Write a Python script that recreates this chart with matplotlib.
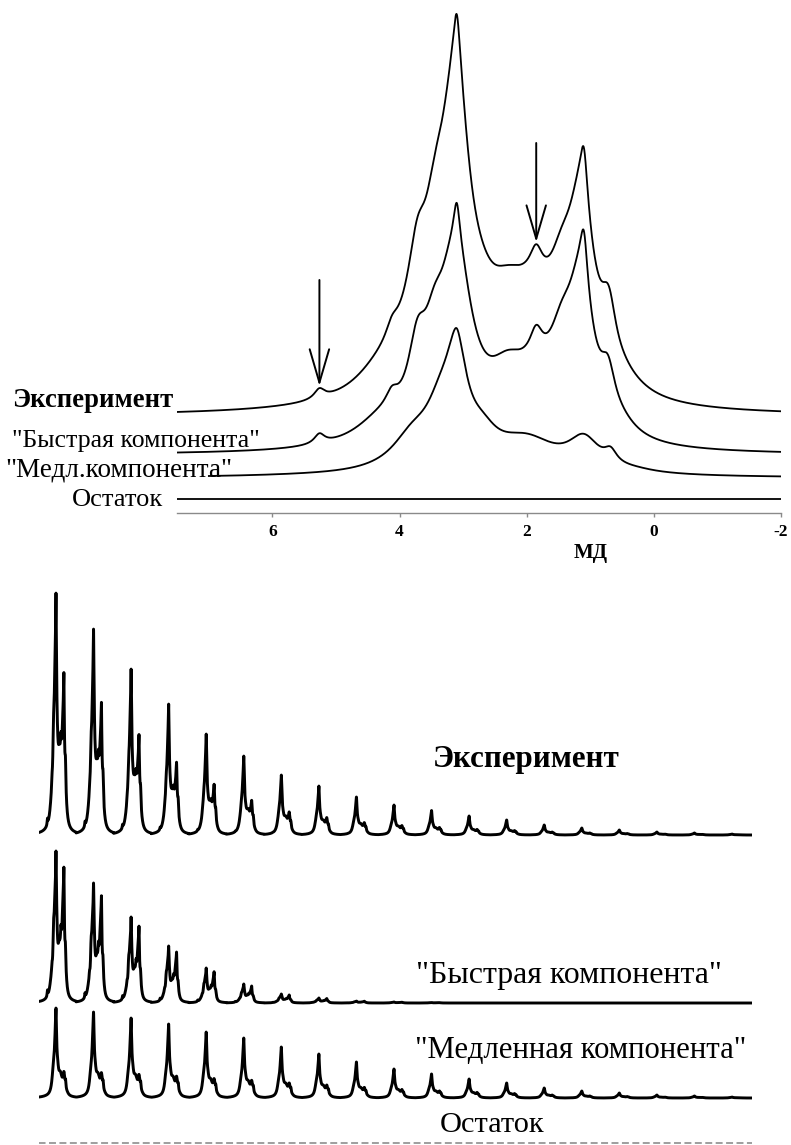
import numpy as np
import matplotlib
matplotlib.use('Agg')
import matplotlib.pyplot as plt

# ---------------- data ----------------
# chemical-shift axis (ppm)
ppm_left, ppm_right = 7.5, -2.0
ppm_ticks = [6, 4, 2, 0, -2]
ppm_tick_labels = ['6', '4', '2', '0', '-2']
x_label = 'МД'

# "fast" component: Lorentzian lines (position ppm, half-width ppm, height)
fast_pos = [5.26, 4.30, 4.12, 3.72, 3.45, 3.25, 3.10, 3.10, 2.30, 1.85, 1.85, 1.45, 1.10, 1.15, 0.72, 0.50]
fast_hw  = [0.10, 0.50, 0.12, 0.18, 0.20, 0.15, 0.06, 0.30, 0.40, 0.12, 0.40, 0.25, 0.07, 0.25, 0.14, 0.30]
fast_amp = [9.8, 22.0, 15.0, 65.0, 58.0, 9.1, 38.6, 168.6, 50.4, 26.6, 36.4, 59.1, 50.7, 132.9, 42.0, 8.5]

# "slow" component
slow_pos = [3.10, 3.10, 3.35, 3.80, 2.70, 2.00, 1.10, 0.68, 0.30, 5.50]
slow_hw  = [0.06, 0.20, 0.30, 0.40, 0.30, 0.60, 0.30, 0.12, 0.40, 1.50]
slow_amp = [4.8, 94.1, 46.7, 29.2, 22.1, 31.2, 30.0, 12.5, 2.3, 0.7]

slow_start_ppm = 7.0

# pseudo-2D series: peak height of each spectrum (19 spectra)
fast_series = [152, 120, 86, 57, 35, 19, 9, 5, 2, 1, 0.5, 0, 0, 0, 0, 0, 0, 0, 0]
slow_series = [90, 86, 80, 74, 66, 60, 51, 44, 36, 29, 24, 19, 15, 10, 7, 5, 3, 2, 1]

# arrows (ppm)
arrow_ppm = [5.26, 1.85]

top_labels = ['Эксперимент', '"Быстрая компонента"', '"Медл.компонента"', 'Остаток']
bottom_labels = ['Эксперимент', '"Быстрая компонента"', '"Медленная компонента"', 'Остаток']

# ---------------- helpers ----------------
def lorentz_sum(p, pos, hw, amp):
    y = np.zeros_like(p, dtype=float)
    for x0, w, a in zip(pos, hw, amp):
        y += a * w * w / ((p - x0) ** 2 + w * w)
    return y

SERIF = ['Liberation Serif', 'DejaVu Serif']
plt.rcParams['font.family'] = SERIF
plt.rcParams['xtick.labelsize'] = 12.5

W, H = 791, 1145
fig = plt.figure(figsize=(W / 100, H / 100), dpi=100)

# ---------------- top panel ----------------
ax = fig.add_axes([177 / W, (H - 513) / H, (781 - 177) / W, 513 / H])
ax.set_xlim(ppm_left, ppm_right)
ax.set_ylim(0, 513)
p = np.linspace(ppm_left, ppm_right, 4000)
F = lorentz_sum(p, fast_pos, fast_hw, fast_amp)
S = lorentz_sum(p, slow_pos, slow_hw, slow_amp)

off_exp, off_fast, off_slow, off_res = 97, 58, 35, 14
lw_top = 1.3
ax.plot(p, off_exp + F + S, color='black', lw=lw_top)
ax.plot(p, off_fast + F, color='black', lw=lw_top)
m = p <= slow_start_ppm
ax.plot(p[m], off_slow + S[m], color='black', lw=lw_top)
ax.plot(p, off_res + np.zeros_like(p), color='black', lw=lw_top)

# arrows
arrow_tops = [233, 370]
for q, top in zip(arrow_ppm, arrow_tops):
    tip = off_exp + lorentz_sum(np.array([q]), fast_pos, fast_hw, fast_amp)[0] + \
        lorentz_sum(np.array([q]), slow_pos, slow_hw, slow_amp)[0] + 2
    ax.annotate('', xy=(q, tip), xytext=(q, top),
                arrowprops=dict(arrowstyle='->,head_length=2.4,head_width=0.7',
                                lw=1.4, color='black', mutation_scale=10,
                                shrinkA=0, shrinkB=0))

for s in ['left', 'top', 'right']:
    ax.spines[s].set_visible(False)
ax.spines['bottom'].set_color('#8a8a8a')
ax.spines['bottom'].set_linewidth(1.0)
ax.set_yticks([])
ax.set_xticks(ppm_ticks)
ax.set_xticklabels(ppm_tick_labels, fontweight='bold', fontsize=12.5)
ax.tick_params(axis='x', direction='out', length=3, width=1, color='#8a8a8a', pad=5)
fig.text(591 / W, 1 - 558 / H, x_label, fontweight='bold',
         fontsize=15, ha='center', va='baseline')

# ---------------- bottom panel ----------------
n = len(slow_series)
bx = fig.add_axes([38.6 / W, 0, (752.2 - 38.6) / W, 575 / H])
bx.set_xlim(0, n)
bx.set_ylim(0, 575)
bx.axis('off')
pf = np.linspace(ppm_left, ppm_right, 20000)
Fn_max = lorentz_sum(pf, fast_pos, fast_hw, fast_amp).max()
Sn_max = lorentz_sum(pf, slow_pos, slow_hw, slow_amp).max()
xs, yf, ys = [], [], []
for k in range(n):
    pk = np.linspace(ppm_left, ppm_right, 700, endpoint=(k == n - 1))
    xs.append(k + (ppm_left - pk) / (ppm_left - ppm_right))
    yf.append(fast_series[k] * lorentz_sum(pk, fast_pos, fast_hw, fast_amp) / Fn_max)
    ys.append(slow_series[k] * lorentz_sum(pk, slow_pos, slow_hw, slow_amp) / Sn_max)
xs = np.concatenate(xs); yf = np.concatenate(yf); ys = np.concatenate(ys)
b_exp, b_fast, b_slow, b_res = 310, 142, 47, 2
lw_bot = 2.1
bx.plot(xs, b_exp + yf + ys, color='black', lw=lw_bot, solid_joinstyle='round')
bx.plot(xs, b_fast + yf, color='black', lw=lw_bot, solid_joinstyle='round')
bx.plot(xs, b_slow + ys, color='black', lw=lw_bot, solid_joinstyle='round')
bx.plot(xs, b_res + np.zeros_like(xs), color='#777777', lw=1.0, ls=(0, (5, 2.5)))

# ---------------- labels ----------------
renderer = fig.canvas.get_renderer()

def put(text, x0, x1, base, bold=False):
    t = fig.text(x0 / W, 1 - base / H, text,
                 fontweight='bold' if bold else 'normal', fontsize=10,
                 ha='left', va='baseline')
    w = t.get_window_extent(renderer).width
    t.set_fontsize(10 * (x1 - x0) / w)
    return t

top_pos = [(12, 172, 407, True), (12, 260, 447, False), (5, 232, 477, False), (72, 163, 506, False)]
for s, (a, b, c, d) in zip(top_labels, top_pos):
    put(s, a, b, c, d)
bot_pos = [(433, 620, 767, True), (416, 723, 983, False), (415, 748, 1058, False), (440, 545, 1132, False)]
for s, (a, b, c, d) in zip(bottom_labels, bot_pos):
    put(s, a, b, c, d)

fig.savefig('out.png', dpi=100)
